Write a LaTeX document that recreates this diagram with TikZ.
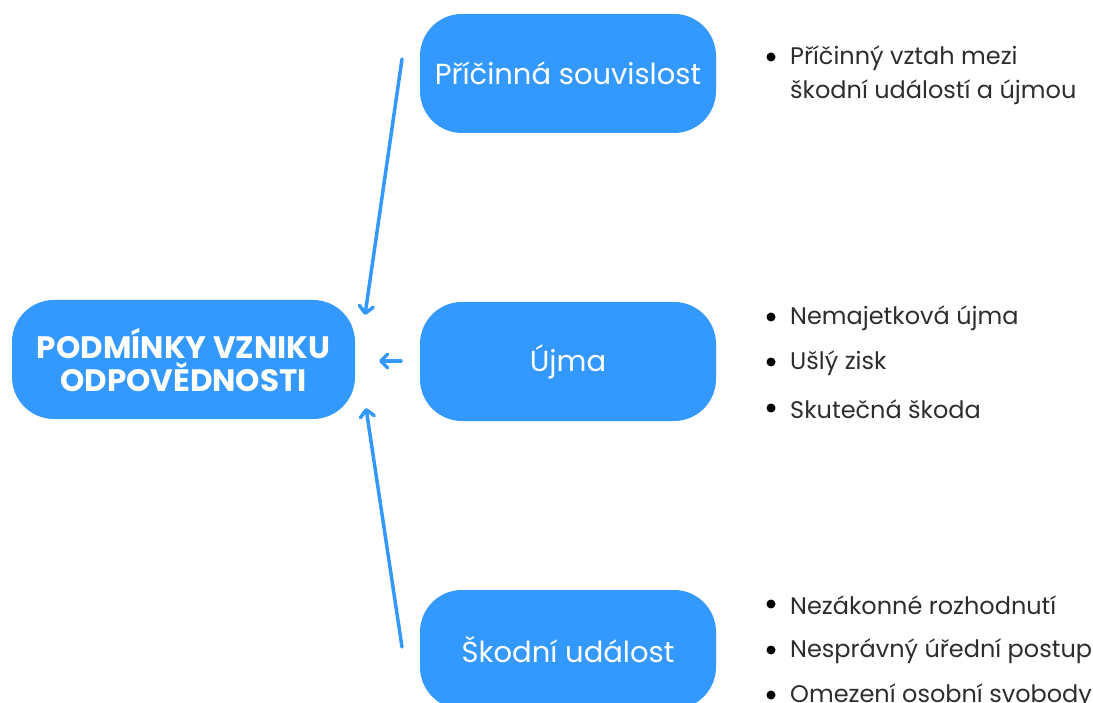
\documentclass[tikz,border=0pt]{standalone}
\usepackage{fontspec}
\setmainfont{Poppins}
\usetikzlibrary{arrows.meta}
\definecolor{boxblue}{RGB}{52,153,255}
\definecolor{itemtext}{RGB}{45,45,45}
\begin{document}
\begin{tikzpicture}[x=1pt,y=-1pt,
  pill/.style={fill=boxblue, rounded corners=42pt, minimum width=296pt, minimum height=119pt,
    text=white, font=\fontsize{29}{34}\selectfont, inner sep=0pt, align=center},
  hub/.style={pill, minimum width=343pt, font=\fontsize{31}{33}\selectfont\bfseries},
  link/.style={draw=boxblue, line width=3.5pt, line cap=round,
    -{Straight Barb[length=7pt,width=14pt,line width=3.5pt,round]}},
  item/.style={anchor=west, text=itemtext, font=\fontsize{24}{28}\selectfont, inner sep=0pt},
  dot/.style={fill=black}
]
\useasboundingbox (0,0) rectangle (1093,703);
\clip (0,0) rectangle (1093,703);

% central box
\node[hub] (hub) at (183.5,359.5) {PODMÍNKY VZNIKU\\ODPOVĚDNOSTI};

% the three conditions
\node[pill] (cause)  at (568,73.5)  {Příčinná souvislost};
\node[pill] (harm)   at (568,361.5) {Újma};
\node[pill] (event)  at (568,649.5) {Škodní událost};

% arrow end points
\coordinate (causeS) at (402,59);
\coordinate (causeE) at (365,315);
\coordinate (harmS)  at (401,361);
\coordinate (harmE)  at (379,361);
\coordinate (eventS) at (402,647);
\coordinate (eventE) at (366,408);

\draw[link] (causeS) -- (causeE);
\draw[link] (harmS) -- (harmE);
\draw[link] (eventS) -- (eventE);

% bullet lists
\node[item] (c1) at (790,58) {Příčinný vztah mezi};
\node[item] (c2) at (790,92) {škodní událostí a újmou};
\fill[dot] (771,57) circle (4.5pt);

\node[item] (h1) at (790,318) {Nemajetková újma};
\node[item] (h2) at (790,363) {Ušlý zisk};
\node[item] (h3) at (790,409) {Skutečná škoda};
\foreach \y in {317,362,408} \fill[dot] (771,\y) circle (4.5pt);

\node[item] (e1) at (790,605) {Nezákonné rozhodnutí};
\node[item] (e2) at (790,651) {Nesprávný úřední postup};
\node[item] (e3) at (790,696) {Omezení osobní svobody};
\foreach \y in {604,650,695} \fill[dot] (771,\y) circle (4.5pt);
\end{tikzpicture}
\end{document}
